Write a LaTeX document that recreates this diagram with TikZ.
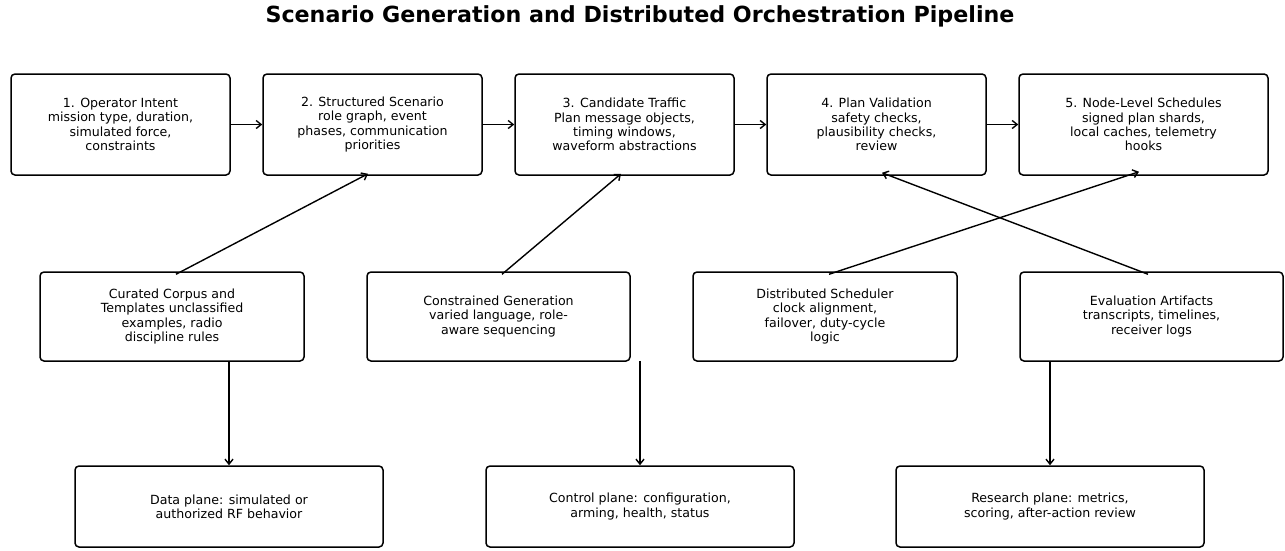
\documentclass[tikz,border=0pt]{standalone}
\usepackage{fontspec}
\setmainfont{DejaVu Sans}
\usetikzlibrary{arrows.meta,calc}
\begin{document}
\begin{tikzpicture}[x=1pt,y=-1pt,
  box/.style={draw=black, line width=1.5pt, rounded corners=4pt, fill=white,
    align=center, inner sep=0pt, font=\fontsize{12.6}{14.2}\selectfont},
  topbox/.style={box, minimum width=219pt, minimum height=101pt},
  midbox/.style={box, minimum width=264pt, minimum height=89pt},
  botbox/.style={box, minimum width=308pt, minimum height=81pt},
  conn/.style={line width=1.4pt, -{Straight Barb[length=5pt,width=8pt,line width=1.4pt]}}
]
\useasboundingbox (0,0) rectangle (1285,550);
\node[font=\fontsize{22.2}{26}\selectfont\bfseries] (title) at (640,16) {Scenario Generation and Distributed Orchestration Pipeline};

\node[topbox] (b1) at (120.5,124.5) {1. Operator Intent\\mission type, duration,\\simulated force,\\constraints};
\node[topbox] (b2) at (372.5,124.5) {2. Structured Scenario\\role graph, event\\phases, communication\\priorities};
\node[topbox] (b3) at (624.5,124.5) {3. Candidate Traffic\\Plan message objects,\\timing windows,\\waveform abstractions};
\node[topbox] (b4) at (876.5,124.5) {4. Plan Validation\\safety checks,\\plausibility checks,\\review};
\node[topbox, minimum width=249pt] (b5) at (1143.5,124.5) {5. Node-Level Schedules\\signed plan shards,\\local caches, telemetry\\hooks};

\node[midbox] (ma) at (172,316.5) {Curated Corpus and\\Templates unclassified\\examples, radio\\discipline rules};
\node[midbox, minimum width=263pt] (mb) at (498.5,316.5) {Constrained Generation\\varied language, role-\\aware sequencing};
\node[midbox] (mc) at (825,316.5) {Distributed Scheduler\\clock alignment,\\failover, duty-cycle\\logic};
\node[midbox, minimum width=263pt] (md) at (1151.5,316.5) {Evaluation Artifacts\\transcripts, timelines,\\receiver logs};

\node[botbox] (pe) at (229,506.5) {Data plane: simulated or\\authorized RF behavior};
\node[botbox] (pf) at (640,506.5) {Control plane: configuration,\\arming, health, status};
\node[botbox] (pg) at (1050,506.5) {Research plane: metrics,\\scoring, after-action review};

\draw[conn] (b1.east) -- (b2.west);
\draw[conn] (b2.east) -- (b3.west);
\draw[conn] (b3.east) -- (b4.west);
\draw[conn] (b4.east) -- (b5.west);

\draw[conn] ($(ma.north)+(4,3)$) -- ($(b2.south)+(-4.5,-2)$);
\draw[conn] ($(mb.north)+(3.5,3)$) -- ($(b3.south)+(-3.5,-2)$);
\draw[conn] ($(mc.north)+(4,3)$) -- ($(b5.south)+(-4.5,-4)$);
\draw[conn] ($(md.north)+(-3.5,3)$) -- ($(b4.south)+(5.5,-3)$);

\coordinate (se) at ($(pe.north |- ma.south)+(0,-1)$);
\coordinate (sf) at ($(pf.north |- mb.south)+(0,-1)$);
\coordinate (sg) at ($(pg.north |- md.south)+(0,-1)$);
\draw[conn] (se) -- (pe.north);
\draw[conn] (sf) -- (pf.north);
\draw[conn] (sg) -- (pg.north);
\end{tikzpicture}
\end{document}
